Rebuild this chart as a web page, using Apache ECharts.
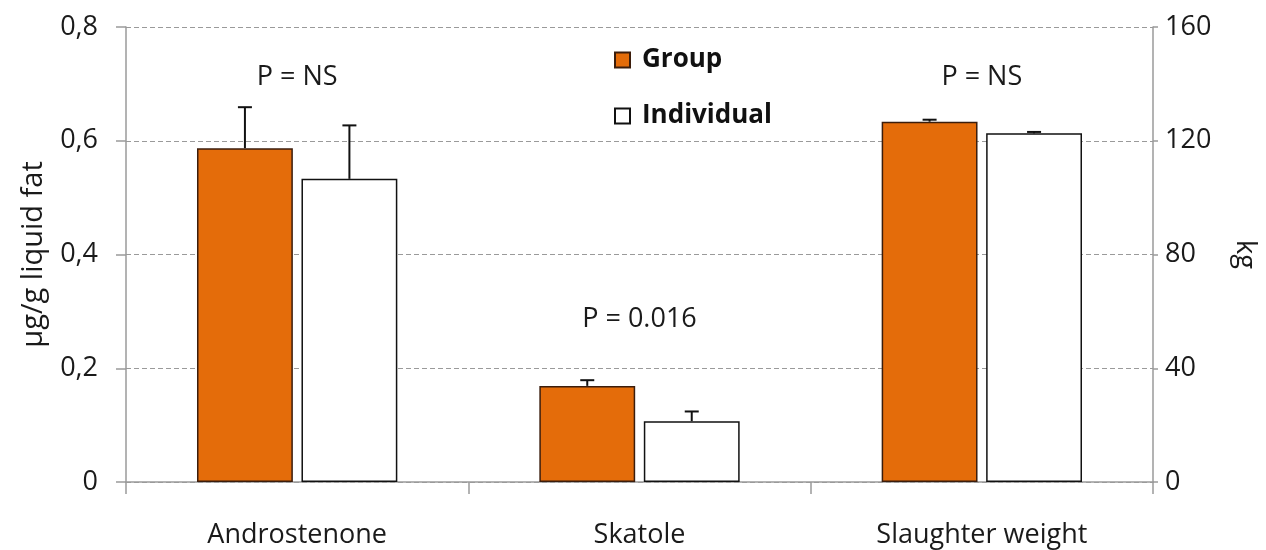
<!DOCTYPE html>
<html><head><meta charset="utf-8">
<script src="https://cdn.jsdelivr.net/npm/echarts@6/dist/echarts.min.js"></script>
<style>html,body{margin:0;padding:0;background:#fff}#c{width:1266px;height:550px}</style>
</head><body><div id="c"></div>
<script>
var categories = ['Androstenone', 'Skatole', 'Slaughter weight'];
// left axis (µg/g liquid fat)
var groupFat = [0.587, 0.169, null];
var groupFatErr = [0.659, 0.179, null];
var indivFat = [0.533, 0.107, null];
var indivFatErr = [0.627, 0.124, null];
// right axis (kg)
var groupKg = [null, null, 126.7];
var groupKgErr = [null, null, 127.4];
var indivKg = [null, null, 122.6];
var indivKgErr = [null, null, 123.1];
// annotations
var pLabels = ['P = NS', 'P = 0.016', 'P = NS'];
var pLabelY = [0.712, 0.286, 0.712];

var FONT = '"Open Sans", "Noto Sans", sans-serif';
var BW = 0.28, BG = 0.09;
var ORANGE = '#E46C0A';
var TXT = '#1a1a1a';

function errSeries(name, vals, tops, side, xi, yi) {
  var data = [];
  for (var i = 0; i < vals.length; i++) if (vals[i] != null) data.push([i, vals[i], tops[i]]);
  return {
    type: 'custom', name: name + '_err', xAxisIndex: xi, yAxisIndex: yi, silent: true, z: 5,
    data: data,
    renderItem: function (params, api) {
      var band = api.size([1, 0])[0];
      var off = side * band * BW * (1 + BG) / 2;
      var p0 = api.coord([api.value(0), api.value(1)]);
      var p1 = api.coord([api.value(0), api.value(2)]);
      var x = p0[0] + off;
      var st = { stroke: '#111', lineWidth: 2 };
      return { type: 'group', children: [
        { type: 'line', shape: { x1: x, y1: p0[1], x2: x, y2: p1[1] }, style: st },
        { type: 'line', shape: { x1: x - 7, y1: p1[1], x2: x + 7, y2: p1[1] }, style: st }
      ]};
    }
  };
}

var chart = echarts.init(document.getElementById('c'));
var axisLineStyle = { color: '#9a9a9a', width: 1.5 };
chart.setOption({
  animation: false,
  textStyle: { fontFamily: FONT },
  grid: { left: 126, right: 108, top: 27, bottom: 68 },
  legend: {
    data: ['Group', 'Individual'], orient: 'vertical', left: 609, top: 42,
    itemWidth: 15, itemHeight: 15, itemGap: 30, icon: 'rect',
    textStyle: { fontFamily: FONT, fontSize: 26, fontWeight: 'bold', color: '#111', padding: [0, 0, 0, 7] }
  },
  xAxis: [
    { type: 'category', data: categories,
      axisLine: { lineStyle: axisLineStyle },
      axisTick: { show: true, length: 12, lineStyle: axisLineStyle },
      axisLabel: { fontSize: 27, color: TXT, margin: 40, fontFamily: FONT } },
    { type: 'category', data: categories, show: false }
  ],
  yAxis: [
    { type: 'value', min: 0, max: 0.8, interval: 0.2,
      name: 'µg/g liquid fat', nameLocation: 'middle', nameGap: 78, nameRotate: 90,
      nameTextStyle: { fontSize: 29, color: TXT, fontFamily: FONT },
      axisLine: { show: true, lineStyle: axisLineStyle },
      axisTick: { show: true, length: 10, lineStyle: axisLineStyle },
      axisLabel: { fontSize: 27, color: TXT, margin: 28, fontFamily: FONT,
        formatter: function (v) { return String(+v.toFixed(1)).replace('.', ','); } },
      splitLine: { show: true, lineStyle: { color: '#9a9a9a', type: [5, 3], width: 1.2 } } },
    { type: 'value', min: 0, max: 160, interval: 40, position: 'right',
      name: 'kg', nameLocation: 'middle', nameGap: 78, nameRotate: -90,
      nameTextStyle: { fontSize: 27, color: TXT, fontFamily: FONT },
      axisLine: { show: true, lineStyle: axisLineStyle },
      axisTick: { show: true, length: 5, lineStyle: axisLineStyle },
      axisLabel: { fontSize: 27, color: TXT, margin: 12, fontFamily: FONT },
      splitLine: { show: false } }
  ],
  series: [
    { type: 'bar', name: 'Group', data: groupFat, xAxisIndex: 0, yAxisIndex: 0,
      barWidth: (BW * 100) + '%', barGap: (BG * 100) + '%',
      itemStyle: { color: ORANGE, borderColor: '#3b1d0c', borderWidth: 1.5 } },
    { type: 'bar', name: 'Individual', data: indivFat, xAxisIndex: 0, yAxisIndex: 0,
      barWidth: (BW * 100) + '%', barGap: (BG * 100) + '%',
      itemStyle: { color: '#ffffff', borderColor: '#111', borderWidth: 1.5 } },
    { type: 'bar', name: 'Group', data: groupKg, xAxisIndex: 1, yAxisIndex: 1,
      barWidth: (BW * 100) + '%', barGap: (BG * 100) + '%',
      itemStyle: { color: ORANGE, borderColor: '#3b1d0c', borderWidth: 1.5 } },
    { type: 'bar', name: 'Individual', data: indivKg, xAxisIndex: 1, yAxisIndex: 1,
      barWidth: (BW * 100) + '%', barGap: (BG * 100) + '%',
      itemStyle: { color: '#ffffff', borderColor: '#111', borderWidth: 1.5 } },
    errSeries('Group', groupFat, groupFatErr, -1, 0, 0),
    errSeries('Individual', indivFat, indivFatErr, 1, 0, 0),
    errSeries('Group', groupKg, groupKgErr, -1, 1, 1),
    errSeries('Individual', indivKg, indivKgErr, 1, 1, 1),
    { type: 'scatter', symbolSize: 0, silent: true, xAxisIndex: 0, yAxisIndex: 0,
      itemStyle: { opacity: 1 },
      data: pLabelY.map(function (y, i) { return [i, y]; }),
      label: { show: true, position: 'inside', fontSize: 27, color: TXT, fontFamily: FONT,
        formatter: function (p) { return pLabels[p.dataIndex]; } } }
  ]
});
</script></body></html>
